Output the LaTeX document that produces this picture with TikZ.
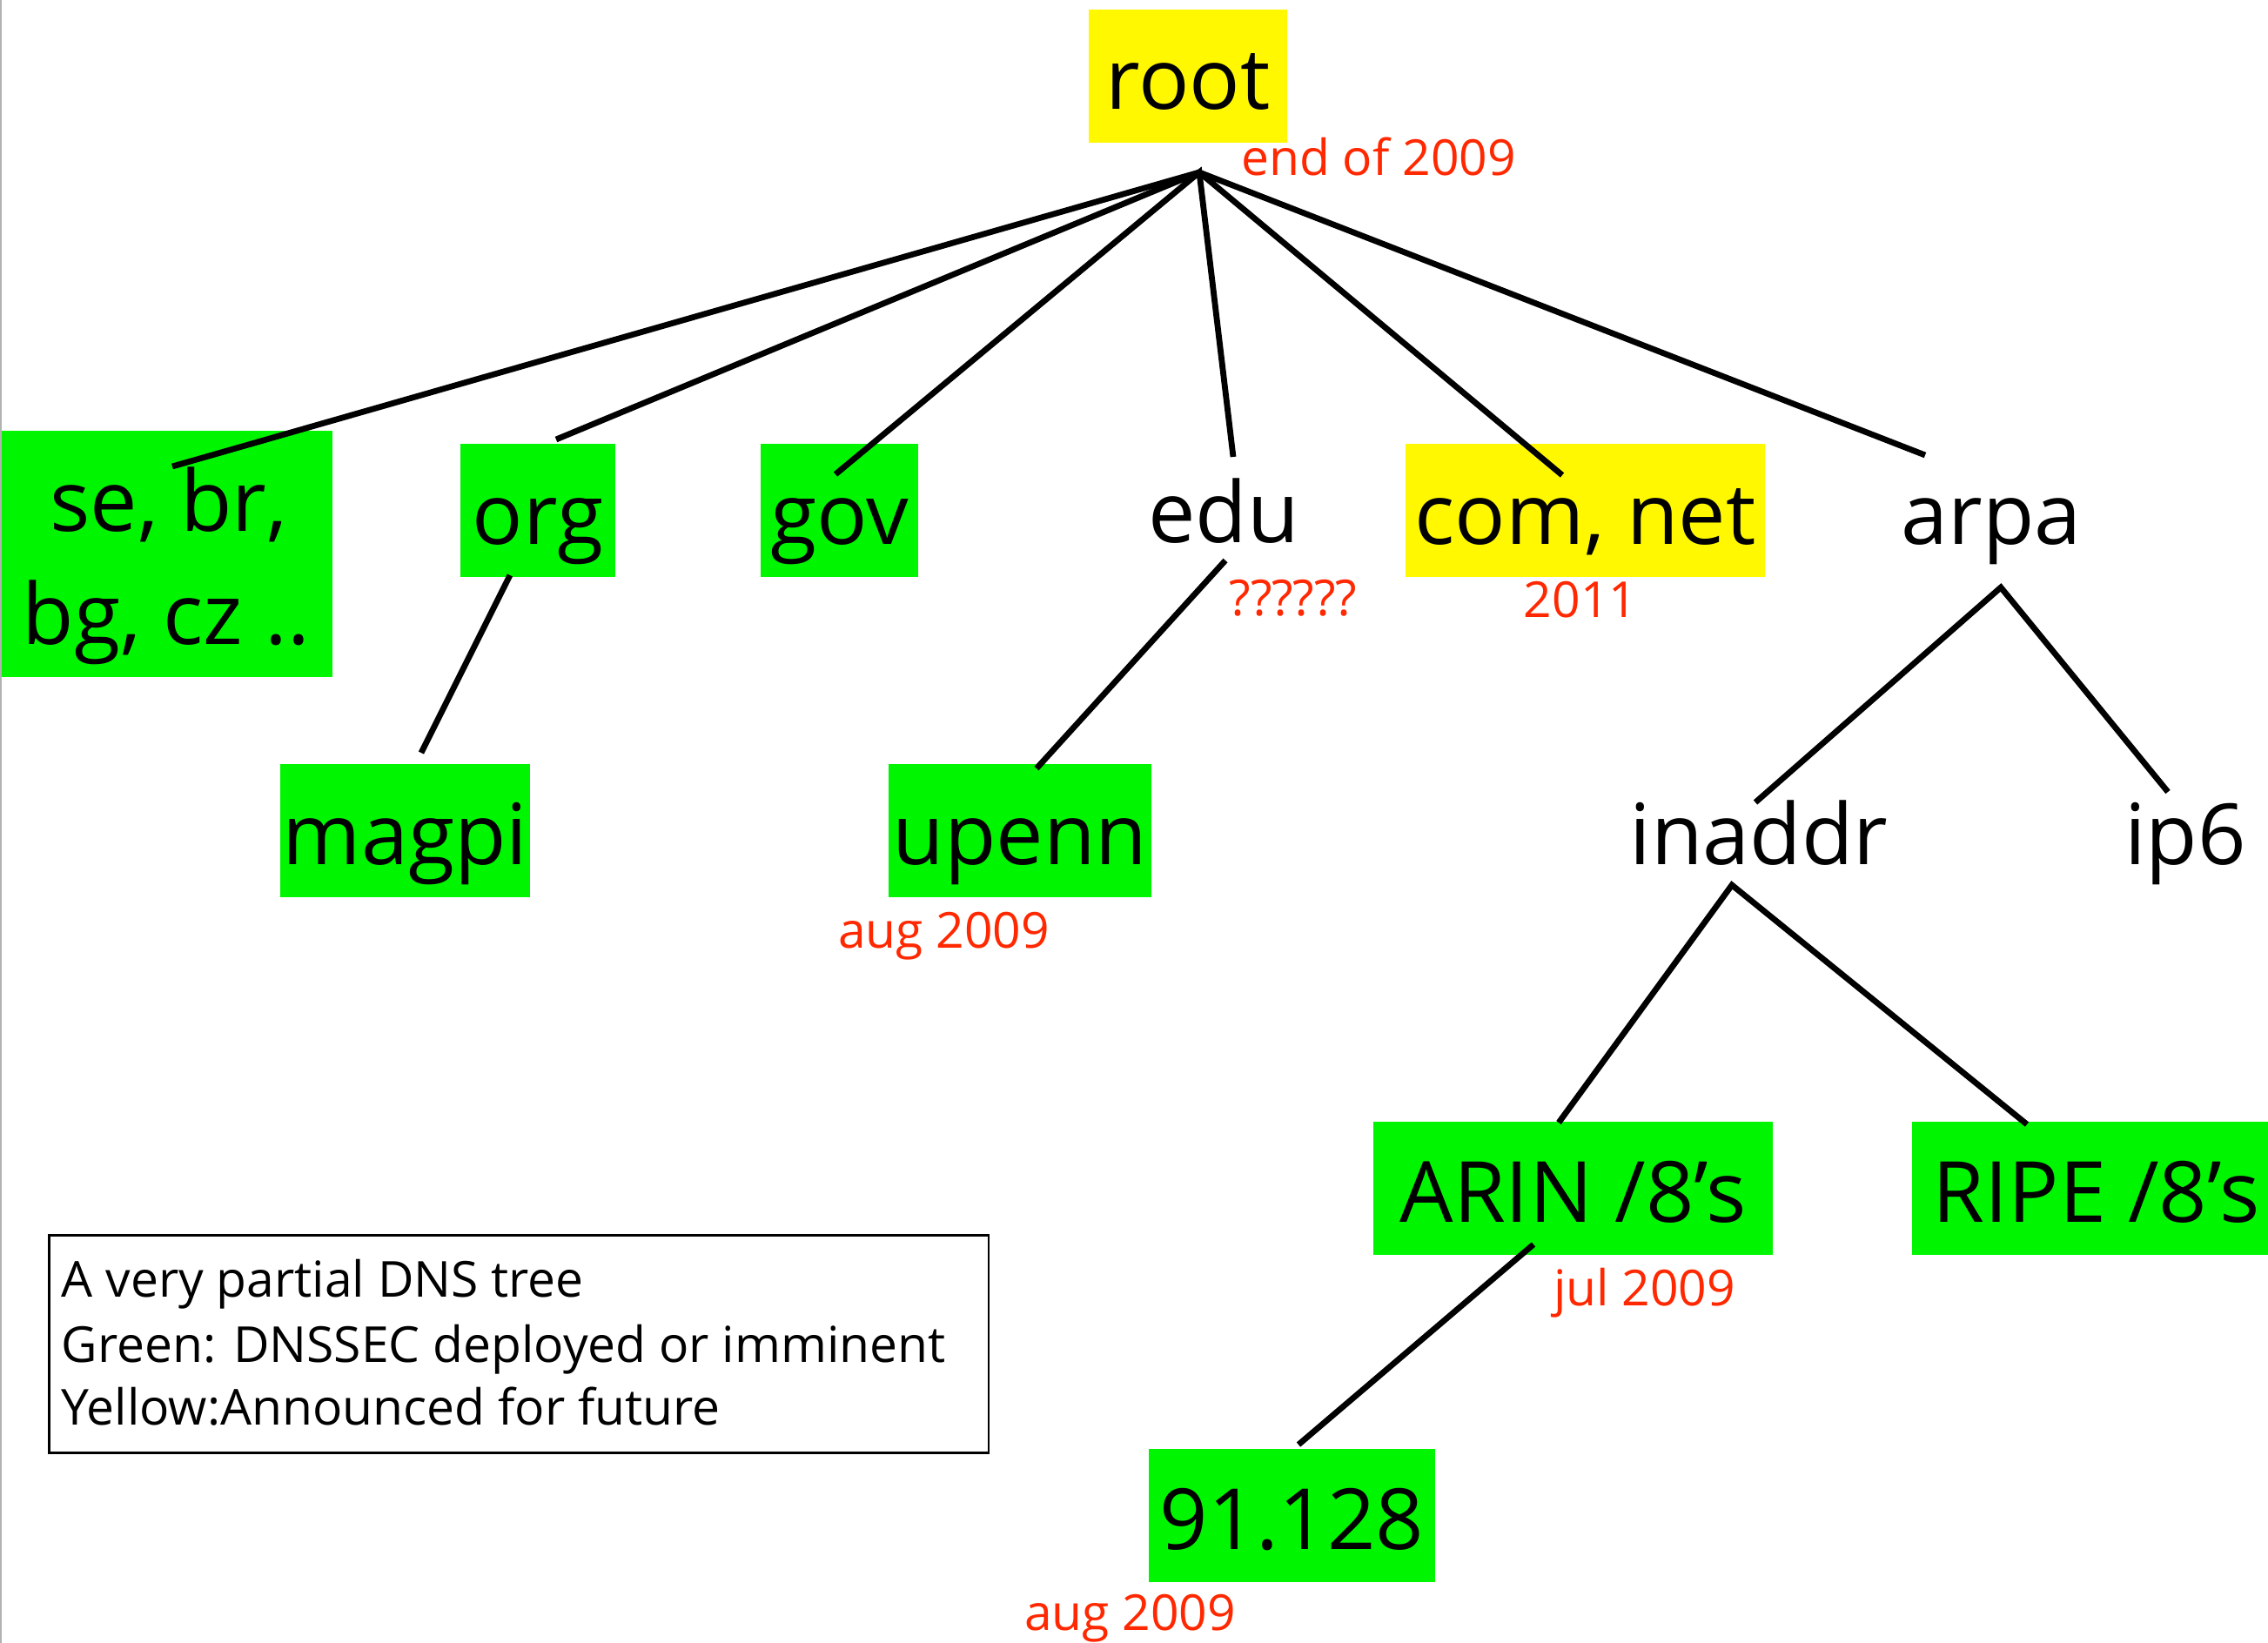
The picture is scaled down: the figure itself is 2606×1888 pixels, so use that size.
\documentclass[tikz,border=0pt]{standalone}
\usepackage{fontspec}
\setmainfont{Open Sans}
\definecolor{dnsgreen}{RGB}{0,246,0}
\definecolor{dnsyellow}{RGB}{255,248,0}
\definecolor{datered}{RGB}{255,40,0}
\begin{document}
\begin{tikzpicture}[x=0.01cm,y=-0.01cm,
  zone/.style={font=\fontsize{27.6}{33}\selectfont, inner sep=0pt,
               text height=1.15cm, text depth=0.38cm, anchor=base},
  signed/.style={zone, fill=dnsgreen},
  planned/.style={zone, fill=dnsyellow},
  when/.style={font=\fontsize{16.2}{20}\selectfont, text=datered,
               inner sep=0pt, anchor=base},
  keytext/.style={font=\fontsize{16.2}{20}\selectfont, inner sep=0pt,
                  anchor=base west},
  link/.style={line width=0.068cm, line join=miter, line cap=butt}]

\useasboundingbox (0,0) rectangle (2606,1888);
\draw[gray!60, line width=0.02cm] (1,0) -- (1,1888);

% zones
\node[planned, minimum width=2.28cm] (root) at (1365,126) {root};

\node[fill=dnsgreen, inner sep=0pt, minimum width=3.80cm, minimum height=2.83cm]
  (cc) at (192,636.5) {};
\node[zone] (cc1) at (194,610) {se, br,};
\node[zone] (cc2) at (191,740) {bg, cz ..};

\node[signed, minimum width=1.78cm] (org) at (618,625) {org};
\node[signed, minimum width=1.81cm] (gov) at (964.5,625) {gov};
\node[zone] (edu) at (1406,623) {edu};
\node[planned, minimum width=4.13cm] (comnet) at (1821.5,625) {com, net};
\node[zone] (arpa) at (2288,625) {arpa};

\node[signed, minimum width=2.87cm] (magpi) at (465.5,993) {magpi};
\node[signed, minimum width=3.02cm] (upenn) at (1172,993) {upenn};
\node[zone] (inaddr) at (2021,993) {inaddr};
\node[zone] (ip6) at (2511,993) {ip6};

\node[signed, minimum width=4.59cm] (arin) at (1807.5,1404) {ARIN /8’s};
\node[signed, minimum width=4.23cm] (ripe) at (2408.5,1404) {RIPE /8’s};
\node[signed, minimum width=3.29cm] (net91) at (1484.5,1780) {91.128};

% deployment dates
\node[when] (rootdate) at (1584,202) {end of 2009};
\node[when] (edudate) at (1486,707) {??????};
\node[when] (comdate) at (1816,709) {2011};
\node[when] (upenndate) at (1084.5,1089) {aug 2009};
\node[when] (arindate) at (1889.5,1500) {jul 2009};
\node[when] (net91date) at (1298.5,1873) {aug 2009};

% key
\node[draw, line width=0.025cm, inner sep=0pt, minimum width=10.79cm,
      minimum height=2.50cm, anchor=north west] (key) at (55,1418) {};
\node[keytext] (key1) at (70,1490) {A very partial DNS tree};
\node[keytext] (key2) at (70,1565) {Green: DNSSEC deployed or imminent};
\node[keytext] (key3) at (70,1637) {Yellow:Announced for future};

% connector ends
\coordinate (fan) at (1378,198);
\coordinate (cc-in) at (198,536);
\coordinate (org-in) at (639,505);
\coordinate (gov-in) at (960,545);
\coordinate (edu-in) at (1417,525);
\coordinate (com-in) at (1795,546);
\coordinate (arpa-in) at (2212,523);
\coordinate (org-out) at (586,661);
\coordinate (magpi-in) at (484,865);
\coordinate (edu-out) at (1408,644);
\coordinate (upenn-in) at (1191,883);
\coordinate (arpa-out) at (2299,675);
\coordinate (inaddr-in) at (2017,922);
\coordinate (ip6-in) at (2491,910);
\coordinate (inaddr-out) at (1990,1017);
\coordinate (arin-in) at (1791,1290);
\coordinate (ripe-in) at (2329,1292);
\coordinate (arin-out) at (1762,1430);
\coordinate (net91-in) at (1492,1660);

% tree
\draw[link] (cc-in) -- (fan) -- (arpa-in);
\draw[link] (org-in) -- (fan) -- (com-in);
\draw[link] (gov-in) -- (fan) -- (edu-in);
\draw[link] (org-out) -- (magpi-in);
\draw[link] (edu-out) -- (upenn-in);
\draw[link] (inaddr-in) -- (arpa-out) -- (ip6-in);
\draw[link] (arin-in) -- (inaddr-out) -- (ripe-in);
\draw[link] (arin-out) -- (net91-in);
\end{tikzpicture}
\end{document}
